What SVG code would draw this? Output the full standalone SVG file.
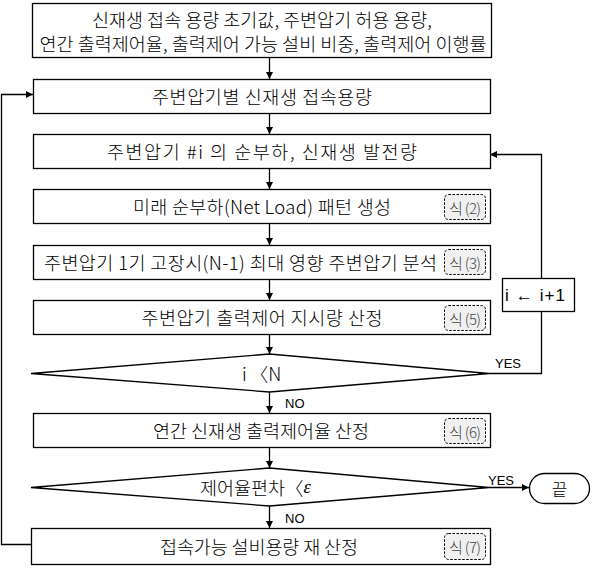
<svg xmlns="http://www.w3.org/2000/svg" width="594" height="569" viewBox="0 0 594 569">
<defs>
<marker id="ah" viewBox="0 0 10 10" refX="10" refY="5" markerWidth="7" markerHeight="7" markerUnits="userSpaceOnUse" orient="auto">
<path d="M0,0 L10,5 L0,10 z" fill="#000"/>
</marker>
<style>
.box{fill:#fff;stroke:#000;stroke-width:1.3}
.t{font-family:"Noto Sans CJK KR","Noto Sans",sans-serif;font-size:18.5px;font-weight:300;fill:#000;text-anchor:middle;dominant-baseline:central}
.lb{font-family:"Liberation Sans","Noto Sans CJK KR",sans-serif;font-size:13px;fill:#000;dominant-baseline:central}
.bd{fill:#f0f0f0;stroke:#000;stroke-width:1;stroke-dasharray:2.5,1.5}
.bt{font-family:"Noto Sans CJK KR",sans-serif;font-size:15px;font-weight:300;fill:#444;text-anchor:middle;dominant-baseline:central}
.c{fill:none;stroke:#000;stroke-width:1.3}
</style>
</defs>
<rect width="594" height="569" fill="#fff"/>
<g id="connectors">
<path class="c" d="M269.5,57 V79" marker-end="url(#ah)"/>
<path class="c" d="M269.5,113 V134" marker-end="url(#ah)"/>
<path class="c" d="M269.5,168 V189" marker-end="url(#ah)"/>
<path class="c" d="M269.5,223 V245" marker-end="url(#ah)"/>
<path class="c" d="M269.5,279 V300" marker-end="url(#ah)"/>
<path class="c" d="M269.5,334 V354" marker-end="url(#ah)"/>
<path class="c" d="M269.5,392 V413" marker-end="url(#ah)"/>
<path class="c" d="M269.5,447 V468" marker-end="url(#ah)"/>
<path class="c" d="M269.5,506 V528" marker-end="url(#ah)"/>
<path class="c" d="M489,487.5 H529" marker-end="url(#ah)"/>
<path class="c" d="M489,373.5 H541.5 V154.5 H490" marker-end="url(#ah)"/>
<path class="c" d="M31,544.5 H1.5 V94.5 H33" marker-end="url(#ah)"/>
<text class="lb" x="285" y="403">NO</text>
<text class="lb" x="285" y="518">NO</text>
<text class="lb" x="495" y="363">YES</text>
<text class="lb" x="488" y="480">YES</text>
</g>
<g id="n1"><rect class="box" x="32.5" y="3.5" width="459" height="54"/>
<text class="t" x="262" y="19" textLength="340">신재생 접속 용량 초기값, 주변압기 허용 용량,</text>
<text class="t" x="263" y="43" textLength="447">연간 출력제어율, 출력제어 가능 설비 비중, 출력제어 이행률</text></g>
<g id="n2"><rect class="box" x="33.5" y="79.5" width="457" height="34"/>
<text class="t" x="262" y="96" textLength="220">주변압기별 신재생 접속용량</text></g>
<g id="n3"><rect class="box" x="33.5" y="134.5" width="457" height="34"/>
<text class="t" x="262" y="151" textLength="310">주변압기 #i 의 순부하, 신재생 발전량</text></g>
<g id="n4"><rect class="box" x="33.5" y="189.5" width="457" height="34"/>
<text class="t" x="262" y="206" textLength="258">미래 순부하(Net Load) 패턴 생성</text>
<rect class="bd" x="444.5" y="194.5" width="41" height="25" rx="4"/><text class="bt" x="465" y="207" textLength="32">식 (2)</text></g>
<g id="n5"><rect class="box" x="33.5" y="245.5" width="457" height="34"/>
<text class="t" x="240.5" y="262" textLength="393">주변압기 1기 고장시(N-1) 최대 영향 주변압기 분석</text>
<rect class="bd" x="444.5" y="249.5" width="41" height="25" rx="4"/><text class="bt" x="465" y="262" textLength="32">식 (3)</text></g>
<g id="n6"><rect class="box" x="33.5" y="300.5" width="457" height="34"/>
<text class="t" x="262" y="317" textLength="241">주변압기 출력제어 지시량 산정</text>
<rect class="bd" x="444.5" y="305.5" width="41" height="25" rx="4"/><text class="bt" x="465" y="318" textLength="32">식 (5)</text></g>
<g id="d1"><polygon class="box" points="31,373.5 269.5,354 489,373.5 269.5,392"/>
<text class="t" x="242" y="373" style="text-anchor:start">i<tspan dx="3">〈</tspan>N</text></g>
<g id="n7"><rect class="box" x="33.5" y="413.5" width="457" height="34"/>
<text class="t" x="261" y="430" textLength="216">연간 신재생 출력제어율 산정</text>
<rect class="bd" x="444.5" y="418.5" width="41" height="25" rx="4"/><text class="bt" x="465" y="431" textLength="32">식 (6)</text></g>
<g id="d2"><polygon class="box" points="31,487.5 269.5,468 489,487.5 269.5,506"/>
<text class="t" x="200" y="487" style="text-anchor:start">제어율편차〈<tspan font-style="italic" style="font-family:'Liberation Serif',serif">ε</tspan></text></g>
<g id="n8"><rect class="box" x="31.5" y="528.5" width="459" height="36"/>
<text class="t" x="259" y="546" textLength="198">접속가능 설비용량 재 산정</text>
<rect class="bd" x="444.5" y="533.5" width="41" height="26" rx="4"/><text class="bt" x="465" y="546.5" textLength="32">식 (7)</text></g>
<g id="n9"><rect class="box" x="502.5" y="278.5" width="72" height="33"/>
<text class="t" x="535" y="295" textLength="60" style="font-family:'Liberation Sans','Noto Sans CJK KR',sans-serif;font-size:17px;font-weight:400">i ← i+1</text></g>
<g id="end"><rect class="box" x="529.5" y="473.5" width="60" height="30" rx="15"/>
<text class="t" x="559.5" y="488.5" style="font-size:17px">끝</text></g>
</svg>
